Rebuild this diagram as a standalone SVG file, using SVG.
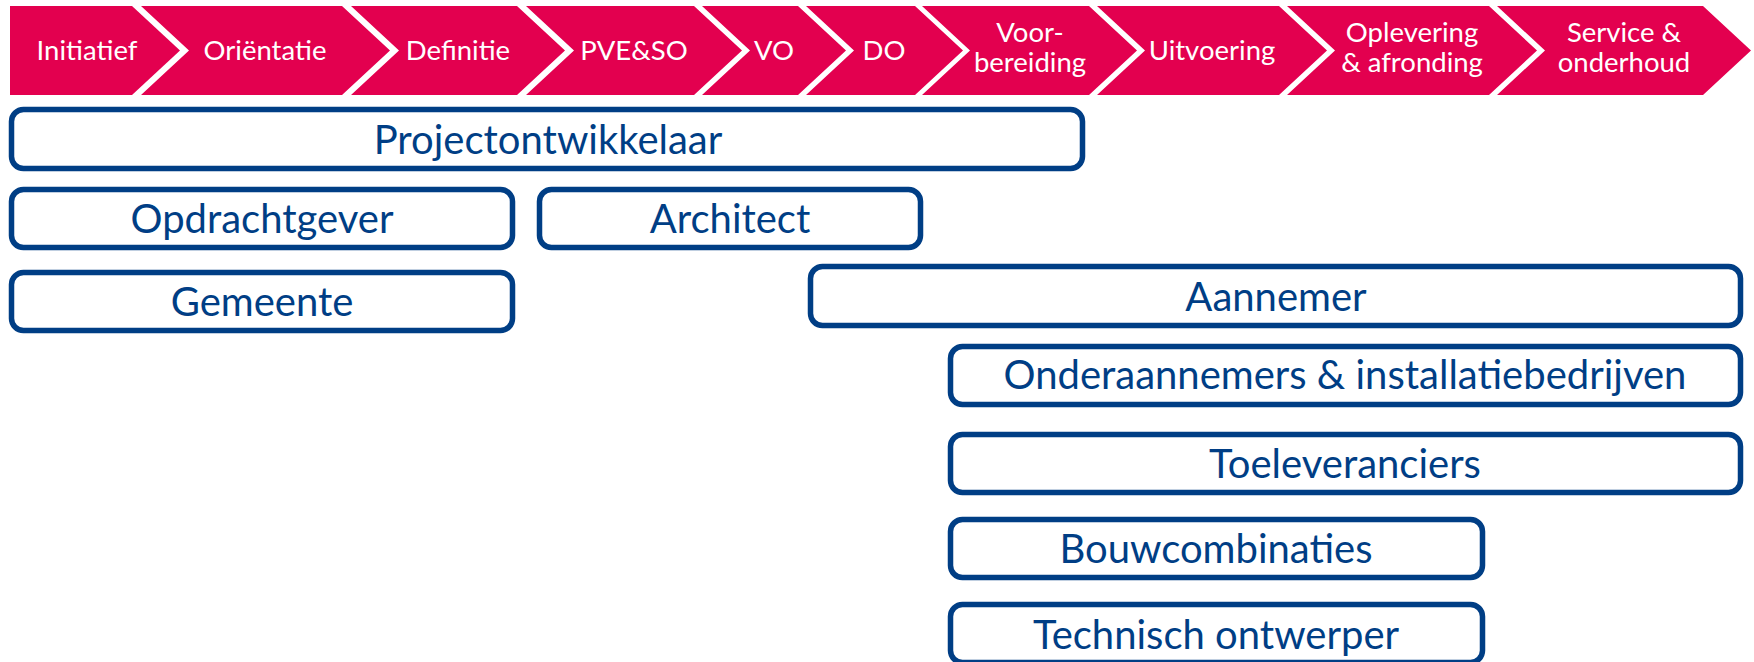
<svg xmlns="http://www.w3.org/2000/svg" width="1754" height="662" viewBox="0 0 1754 662">
<style>
.chev{fill:#E3004F;}
.ct{fill:#FFFFFF;font-family:Lato,"Liberation Sans",sans-serif;font-size:27.5px;text-anchor:middle;}
.box{fill:#FFFFFF;stroke:#003E85;stroke-width:5.5;}
.bt{fill:#003E85;font-family:Lato,"Liberation Sans",sans-serif;font-size:40px;text-anchor:middle;}
</style>
<rect width="1754" height="662" fill="#FFFFFF"/>
<g id="phases">
<g id="p1"><polygon class="chev" points="10,6 132,6 180,50.5 132,95 10,95"/><text class="ct" x="87" y="60">Initiatief</text></g>
<g id="p2"><polygon class="chev" points="141,6 342,6 390,50.5 342,95 141,95 189,50.5"/><text class="ct" x="265" y="60">Oriëntatie</text></g>
<g id="p3"><polygon class="chev" points="351,6 517,6 565,50.5 517,95 351,95 399,50.5"/><text class="ct" x="458" y="60">Definitie</text></g>
<g id="p4"><polygon class="chev" points="526,6 694,6 742,50.5 694,95 526,95 574,50.5"/><text class="ct" x="634" y="60">PVE&amp;SO</text></g>
<g id="p5"><polygon class="chev" points="702,6 798,6 846,50.5 798,95 702,95 750,50.5"/><text class="ct" x="774" y="60">VO</text></g>
<g id="p6"><polygon class="chev" points="806,6 915,6 963,50.5 915,95 806,95 854,50.5"/><text class="ct" x="884" y="60">DO</text></g>
<g id="p7"><polygon class="chev" points="922,6 1089,6 1137,50.5 1089,95 922,95 970,50.5"/><text class="ct" x="1030" y="42">Voor-</text><text class="ct" x="1030" y="72">bereiding</text></g>
<g id="p8"><polygon class="chev" points="1097,6 1279,6 1327,50.5 1279,95 1097,95 1145,50.5"/><text class="ct" x="1212" y="60">Uitvoering</text></g>
<g id="p9"><polygon class="chev" points="1287,6 1489,6 1537,50.5 1489,95 1287,95 1335,50.5"/><text class="ct" x="1412" y="42">Oplevering</text><text class="ct" x="1412" y="72">&amp; afronding</text></g>
<g id="p10"><polygon class="chev" points="1497,6 1703,6 1751,50.5 1703,95 1497,95 1545,50.5"/><text class="ct" x="1624" y="42">Service &amp;</text><text class="ct" x="1624" y="72">onderhoud</text></g>
</g>
<g id="connectors"></g>
<g id="projectontwikkelaar"><rect class="box" x="11.5" y="109.5" width="1071" height="59" rx="12"/><text class="bt" x="548" y="154">Projectontwikkelaar</text></g>
<g id="opdrachtgever"><rect class="box" x="11.5" y="189.5" width="501" height="58" rx="12"/><text class="bt" x="262" y="233">Opdrachtgever</text></g>
<g id="architect"><rect class="box" x="539.5" y="189.5" width="381" height="58" rx="12"/><text class="bt" x="730" y="233">Architect</text></g>
<g id="gemeente"><rect class="box" x="11.5" y="272.5" width="501" height="58" rx="12"/><text class="bt" x="262" y="316">Gemeente</text></g>
<g id="aannemer"><rect class="box" x="810.5" y="266.5" width="930" height="59" rx="12"/><text class="bt" x="1276" y="311">Aannemer</text></g>
<g id="onderaannemers"><rect class="box" x="950.5" y="346.5" width="790" height="58" rx="12"/><text class="bt" x="1345" y="389">Onderaannemers &amp; installatiebedrijven</text></g>
<g id="toeleveranciers"><rect class="box" x="950.5" y="434.5" width="790" height="58" rx="12"/><text class="bt" x="1345" y="478">Toeleveranciers</text></g>
<g id="bouwcombinaties"><rect class="box" x="950.5" y="519.5" width="532" height="58" rx="12"/><text class="bt" x="1216" y="563">Bouwcombinaties</text></g>
<g id="technisch"><rect class="box" x="950.5" y="604.5" width="532" height="58" rx="12"/><text class="bt" x="1216" y="649">Technisch ontwerper</text></g>
</svg>
